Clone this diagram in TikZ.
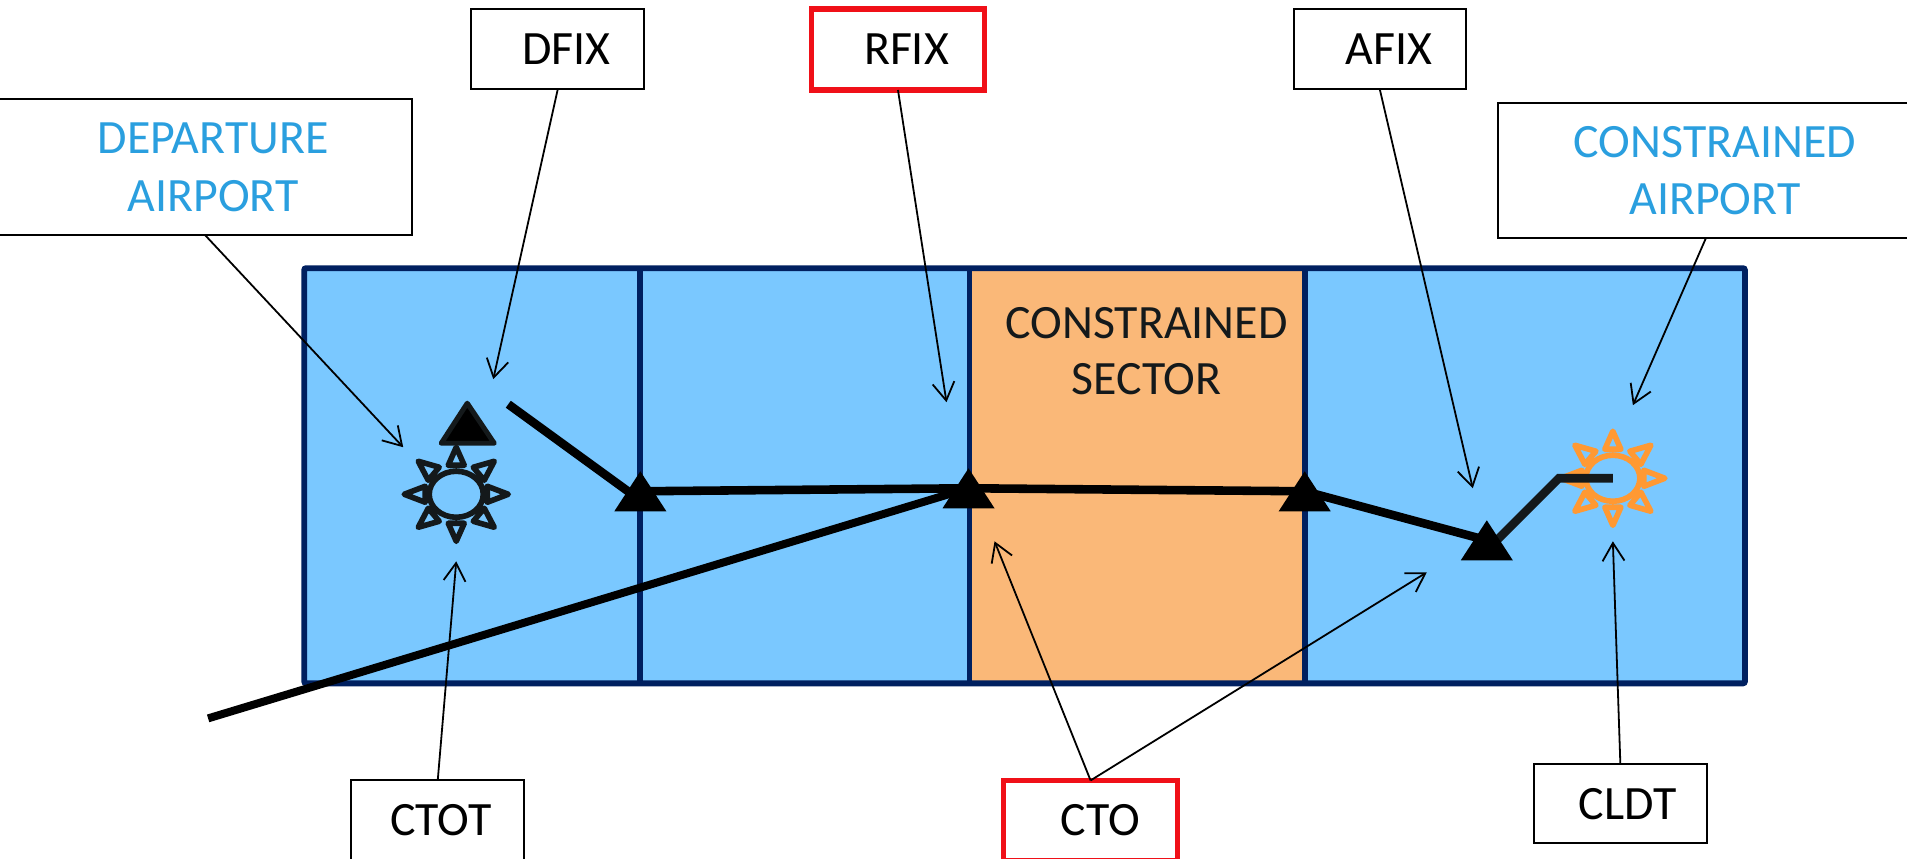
\documentclass[tikz,border=0pt]{standalone}
\usepackage{fontspec}
\setmainfont{Carlito}
\usetikzlibrary{arrows.meta,calc}
\definecolor{zoneblue}{HTML}{7AC8FF}
\definecolor{zoneorange}{HTML}{FAB878}
\definecolor{zoneline}{HTML}{002060}
\definecolor{titleblue}{HTML}{2A9FDF}
\definecolor{dark}{HTML}{14191B}
\definecolor{sunorange}{HTML}{FF9933}
\definecolor{boxred}{HTML}{F01018}
\tikzset{
  x=0.5bp,y=-0.5bp,
  box/.style={draw=black,line width=1pt,fill=white,inner sep=0pt,outer sep=0pt,align=center,
    font=\fontsize{24}{29}\selectfont},
  redbox/.style={box,draw=boxred,line width=2.7pt},
  route/.style={line width=4.3pt,black},
  routedark/.style={line width=4.3pt,dark,line join=miter},
  callout/.style={line width=0.9pt,black,-{Straight Barb[length=9pt,width=11pt,line width=0.9pt]}},
  divider/.style={line width=2.9pt,zoneline},
  tri/.pic={\fill[black] (-26,20) -- (0,-20) -- (26,20) -- cycle;},
  sun/.pic={
    \draw[line width=2.8pt,line join=round,pic actions]
      (0,0) ellipse [x radius=27,y radius=23]
      (0,-47) -- (8,-29) -- (-8,-29) -- cycle
      (0,47) -- (8,29) -- (-8,29) -- cycle
      (-52,0) -- (-31,-8) -- (-31,8) -- cycle
      (52,0) -- (31,-8) -- (31,8) -- cycle
      (-38,-33) -- (-28,-14) -- (-17,-27) -- cycle
      (38,-33) -- (28,-14) -- (17,-27) -- cycle
      (-38,33) -- (-28,14) -- (-17,27) -- cycle
      (38,33) -- (28,14) -- (17,27) -- cycle;
  }
}
\begin{document}
\begin{tikzpicture}
\useasboundingbox (0,0) rectangle (1906,858);
% zones
\fill[zoneblue] (304,268) rectangle (1744,683);
\fill[zoneorange] (969,268) rectangle (1304,683);
\draw[divider,rounded corners=1pt] (304,268) rectangle (1744,683);
\draw[divider] (639.5,268) -- (639.5,683);
\draw[divider] (969,268) -- (969,683);
\draw[divider] (1304,268) -- (1304,683);
% positions
\coordinate (t0) at (467,423);
\coordinate (t1) at (640,491);
\coordinate (t2) at (968,488);
\coordinate (t3) at (1304,491);
\coordinate (t4) at (1486,540);
\coordinate (sundep) at (456,494);
\coordinate (suncon) at (1612,478);
\coordinate (rstart) at (508,404);
\coordinate (rtail) at (208,718);
\coordinate (rbend) at (1558,478);
% route
\draw[route] (rstart) -- ($(t1)+(0,9)$);
\draw[route] (t1) -- (t2);
\draw[route] (t2) -- (t3);
\draw[route] (t3) -- (t4);
\draw[route,line width=4pt] (rtail) -- (t2);
% suns
\pic[dark] at (sundep) {sun};
\pic[sunorange] at (suncon) {sun};
\draw[routedark] ($(t4)+(0,10)$) -- (rbend) -- (suncon);
% triangles
\pic at (t1) {tri};
\pic at (t2) {tri};
\pic at (t3) {tri};
\pic at (t4) {tri};
\draw[fill=black,draw=dark,line width=2.5pt,line join=round] (441,443) -- (467,403) -- (494,443) -- cycle;
% boxes
\node[box,minimum width=207bp,minimum height=68bp] (dep) at (205,167) {\hspace*{8pt}\textcolor{titleblue}{DEPARTURE}\\\hspace*{8pt}\textcolor{titleblue}{AIRPORT}};
\node[box,minimum width=86.5bp,minimum height=40bp] (dfix) at (557.5,49) {\hspace*{8.5pt}DFIX};
\node[redbox,minimum width=86.5bp,minimum height=40.5bp] (rfix) at (897.5,49.5) {\hspace*{8.5pt}RFIX};
\node[box,minimum width=86bp,minimum height=40bp] (afix) at (1379,49) {\hspace*{9pt}AFIX};
\node[box,minimum width=208bp,minimum height=67.5bp] (cair) at (1705,170.5) {\hspace*{9pt}\textcolor{titleblue}{CONSTRAINED}\\\hspace*{9pt}\textcolor{titleblue}{AIRPORT}};
\node[box,minimum width=86.5bp,minimum height=40bp] (ctot) at (437.5,820) {\hspace*{3pt}CTOT};
\node[redbox,minimum width=87bp,minimum height=40bp] (cto) at (1090,820) {\hspace*{10pt}CTO};
\node[box,minimum width=86.5bp,minimum height=39.5bp] (cldt) at (1619.5,803.5) {\hspace*{7.5pt}CLDT};
\node[align=center,inner sep=0pt,text=dark,font=\fontsize{24}{28.5}\selectfont] (sector) at (1146,351) {CONSTRAINED\\SECTOR};
% callout targets
\coordinate (adep) at (403,447);
\coordinate (adfix) at (493,379);
\coordinate (arfix) at (946,402);
\coordinate (aafix) at (1472,488);
\coordinate (acair) at (1632,405);
\coordinate (actot) at (456,561);
\coordinate (actoa) at (994,541);
\coordinate (actob) at (1426,572);
\coordinate (acldt) at (1612,541);
\draw[callout] (dep.south) -- (adep);
\draw[callout] (dfix.south) -- (adfix);
\draw[callout] (rfix.south) -- (arfix);
\draw[callout] (afix.south) -- (aafix);
\draw[callout] (cair.south) -- (acair);
\draw[callout] (ctot.north) -- (actot);
\draw[callout] (cto.north) -- (actoa);
\draw[callout] (cto.north) -- (actob);
\draw[callout] (cldt.north) -- (acldt);
\end{tikzpicture}
\end{document}
